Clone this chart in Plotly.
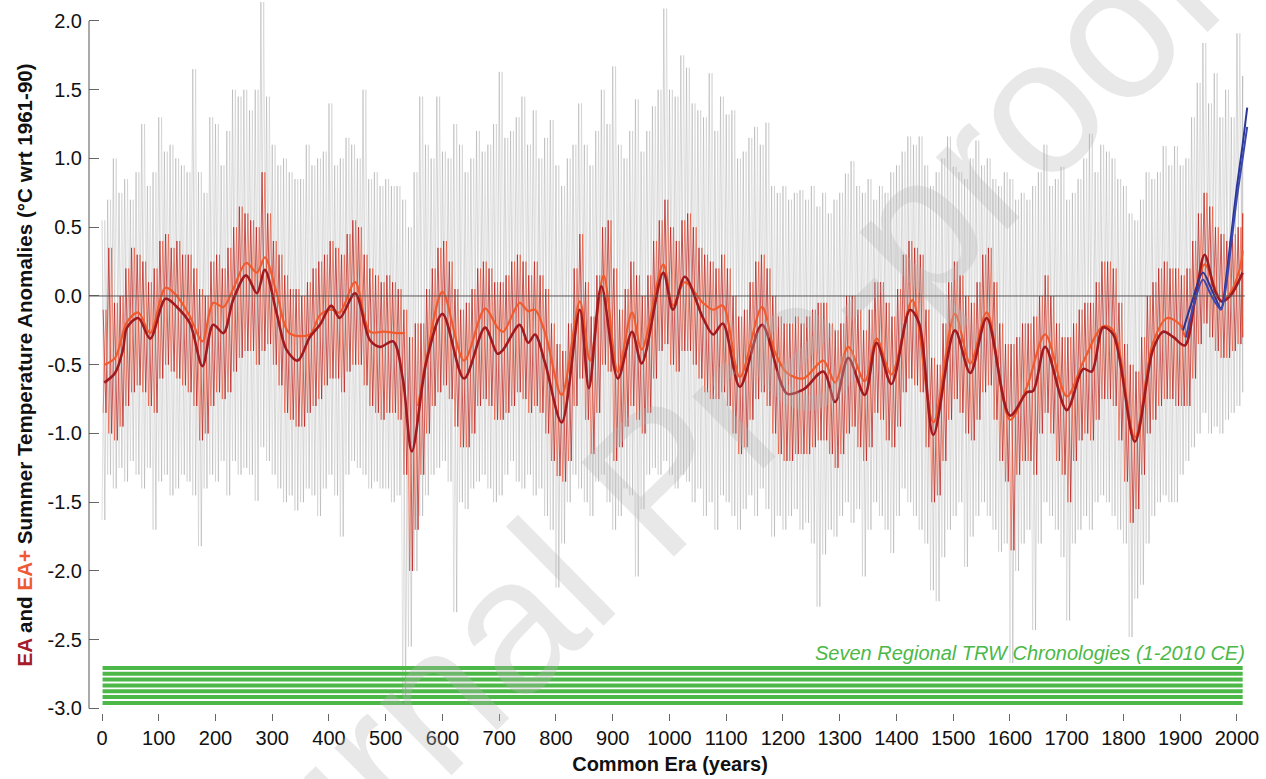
import plotly.graph_objects as go

# ---------------- data ----------------
decades = list(range(0, 2011, 10))

# grey annual uncertainty envelope: upper and lower extremes per decade
grey_hi = [0.55, 0.70, 1.00, 0.75, 0.85, 0.70, 0.90, 1.25, 0.80, 0.90,
           1.30, 1.05, 1.10, 1.00, 0.95, 0.90, 1.65, 0.90, 0.75, 1.30,
           1.25, 0.95, 1.20, 1.50, 1.45, 1.50, 1.35, 1.50, 2.15, 1.45,
           1.10, 0.95, 1.00, 0.90, 0.85, 0.85, 1.10, 0.95, 1.00, 1.05,
           1.40, 0.95, 1.00, 1.15, 1.10, 1.00, 1.50, 0.85, 0.90, 0.80,
           0.85, 0.80, 0.80, 0.70, 0.50, 0.90, 1.45, 1.10, 1.00, 1.45,
           1.05, 1.00, 1.25, 1.10, 0.90, 1.00, 1.20, 1.05, 1.10, 1.25,
           1.63, 1.15, 1.20, 1.30, 1.45, 1.10, 1.35, 1.00, 1.15, 1.28,
           0.95, 0.80, 1.00, 1.10, 1.40, 1.10, 0.95, 1.20, 1.50, 1.25,
           1.67, 1.10, 1.00, 1.20, 1.43, 1.05, 1.20, 1.38, 1.50, 2.09,
           1.50, 1.45, 1.75, 1.66, 1.40, 1.35, 1.30, 1.62, 1.20, 1.45,
           1.32, 1.35, 1.00, 1.05, 1.15, 1.23, 1.10, 1.26, 0.80, 0.75,
           0.80, 0.70, 0.75, 0.77, 0.70, 0.80, 0.65, 0.75, 0.60, 0.70,
           0.75, 0.89, 0.98, 0.80, 0.75, 0.85, 0.70, 0.80, 0.75, 0.90,
           0.95, 1.05, 1.16, 1.10, 1.16, 0.95, 0.80, 0.90, 1.00, 1.16,
           0.94, 0.90, 0.85, 1.00, 1.13, 0.95, 1.00, 0.85, 0.80, 0.90,
           0.85, 0.70, 0.75, 0.70, 0.80, 0.90, 1.10, 0.80, 0.85, 0.94,
           0.70, 0.75, 0.85, 1.00, 1.18, 0.90, 1.10, 1.05, 1.00, 0.85,
           0.80, 0.60, 0.55, 0.70, 0.90, 0.85, 0.90, 1.09, 0.95, 1.09,
           0.95, 1.00, 1.30, 1.55, 1.84, 1.40, 1.62, 1.30, 1.50, 1.30,
           1.91, 1.60]
grey_lo = [-1.63, -1.30, -1.40, -1.25, -1.35, -1.20, -1.30, -1.40, -1.25, -1.70,
           -1.35, -1.30, -1.45, -1.40, -1.30, -1.35, -1.45, -1.82, -1.40, -1.30,
           -1.35, -1.20, -1.45, -1.20, -1.30, -1.25, -1.30, -1.49, -1.10, -1.20,
           -1.30, -1.40, -1.50, -1.45, -1.56, -1.50, -1.40, -1.45, -1.60, -1.40,
           -1.30, -1.45, -1.75, -1.30, -1.20, -1.25, -1.30, -1.40, -1.35, -1.40,
           -1.40, -1.50, -1.45, -2.92, -2.55, -2.00, -1.60, -1.45, -1.30, -1.25,
           -1.20, -1.35, -2.30, -1.50, -1.55, -1.40, -1.35, -1.30, -1.40, -1.50,
           -1.45, -1.30, -1.20, -1.35, -1.40, -1.30, -1.45, -1.40, -1.60, -1.70,
           -2.12, -1.80, -1.50, -1.30, -1.40, -1.50, -1.60, -1.35, -1.30, -1.50,
           -1.70, -1.60, -1.40, -1.45, -2.04, -1.55, -1.30, -1.25, -1.30, -1.20,
           -1.30, -1.40, -1.30, -1.35, -1.50, -1.40, -1.60, -1.50, -1.70, -1.45,
           -1.50, -1.60, -1.70, -1.55, -1.45, -1.60, -1.40, -1.55, -1.75, -1.60,
           -1.70, -1.60, -1.55, -1.70, -1.65, -1.80, -2.26, -1.88, -1.70, -1.75,
           -1.60, -1.50, -1.65, -1.55, -2.04, -1.70, -1.50, -1.60, -1.70, -1.87,
           -1.60, -1.40, -1.50, -1.60, -1.70, -1.80, -2.14, -2.22, -1.90, -1.70,
           -1.60, -1.50, -1.97, -1.75, -1.60, -1.50, -1.60, -1.70, -1.86, -1.80,
           -2.67, -2.00, -1.80, -1.70, -2.43, -1.80, -1.50, -1.60, -1.70, -1.90,
           -2.36, -1.80, -1.70, -1.60, -1.70, -1.50, -1.45, -1.50, -1.60, -1.70,
           -1.80, -2.48, -2.20, -2.10, -1.80, -1.60, -1.50, -1.45, -1.50, -1.50,
           -1.30, -1.20, -1.10, -1.00, -0.85, -1.00, -0.95, -1.00, -0.90, -0.85,
           -0.80, -0.70]

# red annual reconstruction envelope: upper and lower extremes per decade
red_hi = [-0.10, 0.35, -0.05, 0.00, 0.20, 0.35, 0.30, 0.25, 0.10, 0.20,
          0.40, 0.45, 0.35, 0.40, 0.30, 0.30, 0.20, 0.05, 0.00, 0.25,
          0.30, 0.20, 0.35, 0.50, 0.65, 0.60, 0.55, 0.50, 0.90, 0.60,
          0.40, 0.30, 0.15, 0.05, 0.05, 0.00, 0.10, 0.20, 0.25, 0.30,
          0.40, 0.35, 0.30, 0.45, 0.55, 0.50, 0.30, 0.20, 0.15, 0.10,
          0.15, 0.10, 0.05, -0.10, -0.30, -0.20, -0.20, 0.05, 0.20, 0.35,
          0.40, 0.25, 0.05, -0.10, -0.05, 0.05, 0.20, 0.25, 0.20, 0.10,
          0.10, 0.15, 0.25, 0.30, 0.25, 0.15, 0.25, 0.15, 0.05, -0.20,
          -0.35, -0.40, -0.20, 0.20, 0.45, 0.10, -0.15, 0.15, 0.50, 0.55,
          0.20, -0.10, 0.05, 0.25, 0.15, 0.00, 0.15, 0.40, 0.55, 0.70,
          0.50, 0.40, 0.55, 0.60, 0.50, 0.35, 0.30, 0.25, 0.20, 0.30,
          0.20, 0.00, -0.15, -0.10, 0.10, 0.25, 0.30, 0.20, 0.00, -0.15,
          -0.20, -0.20, -0.15, -0.20, -0.15, -0.10, -0.05, -0.05, -0.20, -0.25,
          -0.20, 0.00, 0.00, -0.10, -0.25, -0.10, 0.10, 0.10, -0.05, -0.15,
          0.05, 0.30, 0.40, 0.35, 0.30, -0.10, -0.45, -0.50, -0.20, 0.10,
          0.25, 0.15, 0.00, -0.05, 0.10, 0.30, 0.35, 0.10, -0.20, -0.35,
          -0.35, -0.30, -0.20, -0.20, -0.15, 0.00, 0.15, 0.00, -0.20, -0.30,
          -0.30, -0.20, -0.10, -0.05, -0.05, 0.10, 0.25, 0.25, 0.20, -0.05,
          -0.35, -0.50, -0.55, -0.30, 0.00, 0.10, 0.20, 0.25, 0.20, 0.20,
          0.15, 0.20, 0.40, 0.60, 0.75, 0.65, 0.50, 0.45, 0.40, 0.45,
          0.50, 0.60]
red_lo = [-0.85, -1.00, -1.05, -0.95, -0.80, -0.70, -0.65, -0.70, -0.80, -0.85,
          -0.60, -0.50, -0.55, -0.60, -0.65, -0.70, -0.80, -1.05, -1.00, -0.80,
          -0.70, -0.75, -0.70, -0.55, -0.45, -0.40, -0.40, -0.50, -0.40, -0.35,
          -0.50, -0.65, -0.85, -0.90, -0.95, -0.95, -0.85, -0.80, -0.75, -0.65,
          -0.60, -0.60, -0.70, -0.55, -0.50, -0.50, -0.65, -0.80, -0.85, -0.90,
          -0.85, -0.85, -0.90, -1.30, -2.00, -1.70, -1.30, -1.00, -0.80, -0.70,
          -0.65, -0.75, -0.95, -1.10, -1.10, -1.00, -0.80, -0.75, -0.80, -0.90,
          -0.90, -0.85, -0.80, -0.70, -0.75, -0.85, -0.80, -0.85, -1.00, -1.20,
          -1.31, -1.35, -1.20, -0.80, -0.60, -0.90, -1.15, -0.85, -0.50, -0.55,
          -1.20, -1.10, -0.95, -0.80, -0.90, -1.00, -0.85, -0.60, -0.40, -0.35,
          -0.50, -0.55, -0.40, -0.40, -0.50, -0.60, -0.70, -0.75, -0.75, -0.70,
          -0.80, -1.00, -1.15, -1.10, -0.90, -0.75, -0.70, -0.80, -1.00, -1.15,
          -1.20, -1.20, -1.15, -1.15, -1.15, -1.10, -1.05, -1.05, -1.15, -1.25,
          -1.15, -1.00, -0.95, -1.10, -1.20, -1.10, -0.85, -0.90, -1.05, -1.10,
          -0.95, -0.70, -0.60, -0.65, -0.70, -1.10, -1.50, -1.45, -1.20, -0.90,
          -0.75, -0.85, -1.00, -1.05, -0.90, -0.70, -0.65, -0.90, -1.20, -1.35,
          -1.85, -1.30, -1.20, -1.20, -1.30, -1.00, -0.85, -1.00, -1.20, -1.30,
          -1.50, -1.20, -1.05, -1.00, -1.05, -0.90, -0.75, -0.75, -0.80, -1.05,
          -1.35, -1.65, -1.55, -1.30, -1.00, -0.90, -0.80, -0.75, -0.75, -0.80,
          -0.80, -0.80, -0.60, -0.35, -0.20, -0.30, -0.40, -0.45, -0.45, -0.40,
          -0.35, -0.30]

# smoothed EA reconstruction
ea_years = [4, 23, 37, 44, 64, 85, 112, 132, 155, 177, 196, 214, 231, 254, 273, 287, 308, 325, 345, 366,
            384, 404, 419, 446, 472, 490, 513, 530, 546, 572, 600, 638, 675, 697, 707, 736, 751, 763, 781, 810,
            842, 858, 880, 909, 934, 951, 989, 1006, 1027, 1059, 1077, 1094, 1124, 1163, 1207, 1236, 1271, 1292, 1315, 1344,
            1365, 1391, 1424, 1440, 1465, 1503, 1530, 1559, 1600, 1630, 1641, 1662, 1700, 1729, 1744, 1764, 1782, 1820, 1852, 1870,
            1888, 1908, 1926, 1943, 1961, 1973, 1988, 2010]
ea_smooth = [-0.63, -0.56, -0.39, -0.23, -0.16, -0.31, -0.02, -0.08, -0.20, -0.51, -0.21, -0.27, -0.03, 0.15, 0.02, 0.19, -0.13, -0.39, -0.47, -0.30,
             -0.21, -0.07, -0.16, 0.02, -0.32, -0.37, -0.33, -0.60, -1.13, -0.47, -0.13, -0.60, -0.23, -0.42, -0.39, -0.21, -0.34, -0.28, -0.49, -0.92,
             -0.10, -0.67, 0.07, -0.60, -0.26, -0.49, 0.17, -0.10, 0.14, -0.16, -0.28, -0.20, -0.66, -0.21, -0.71, -0.68, -0.55, -0.77, -0.45, -0.72,
             -0.34, -0.64, -0.10, -0.20, -1.01, -0.25, -0.56, -0.16, -0.87, -0.70, -0.69, -0.37, -0.83, -0.53, -0.55, -0.23, -0.28, -1.06, -0.39, -0.26,
             -0.30, -0.36, -0.03, 0.30, 0.04, -0.04, 0.00, 0.17]

# smoothed EA+ reconstruction (gap around 536-556)
eap_years = [4, 23, 44, 64, 85, 112, 132, 155, 177, 196, 214, 231, 254, 273, 287, 308, 330, 366, 384, 404,
             419, 446, 472, 496, 520, 534, 545, 557, 572, 600, 638, 675, 697, 707, 736, 751, 763, 781, 810, 842,
             860, 884, 909, 934, 951, 989, 1006, 1027, 1059, 1077, 1094, 1124, 1163, 1185, 1207, 1236, 1271, 1292, 1315, 1344,
             1365, 1391, 1428, 1465, 1503, 1530, 1559, 1600, 1630, 1662, 1700, 1729, 1764, 1782, 1820, 1852, 1877, 1900, 1910, 1943,
             1973, 1988, 2005, 2010]
eap_smooth = [-0.50, -0.45, -0.19, -0.12, -0.27, 0.06, 0.00, -0.15, -0.33, -0.05, -0.08, 0.05, 0.24, 0.17, 0.28, 0.02, -0.27, -0.28, -0.14, -0.10,
              -0.12, 0.10, -0.26, -0.26, -0.27, -0.27, None, -0.80, -0.45, 0.03, -0.47, -0.09, -0.23, -0.26, -0.05, -0.11, -0.10, -0.27, -0.72, -0.04,
              -0.47, 0.15, -0.55, -0.12, -0.39, 0.23, -0.07, 0.10, -0.05, -0.10, -0.07, -0.59, -0.08, -0.40, -0.56, -0.60, -0.47, -0.63, -0.37, -0.62,
              -0.31, -0.57, -0.03, -0.92, -0.13, -0.49, -0.12, -0.90, -0.66, -0.28, -0.73, -0.48, -0.22, -0.25, -1.03, -0.34, -0.16, -0.21, -0.30, 0.23,
              -0.04, 0.02, 0.20, 0.33]

# smoothed instrumental records (blue)
inst_years_a = [1905, 1920, 1940, 1955, 1972, 1980, 1990, 2000, 2010, 2018]
inst_a = [-0.25, -0.05, 0.17, 0.05, -0.09, 0.10, 0.45, 0.80, 1.10, 1.37]
inst_years_b = [1910, 1925, 1940, 1955, 1972, 1980, 1990, 2000, 2010, 2018]
inst_b = [-0.30, -0.05, 0.12, 0.00, -0.10, 0.05, 0.38, 0.72, 1.00, 1.23]

# seven regional tree-ring width chronologies (coverage in years CE)
chron_names = ["Region 1", "Region 2", "Region 3", "Region 4", "Region 5", "Region 6", "Region 7"]
chron_start = [1, 1, 1, 1, 1, 1, 1]
chron_end = [2010, 2010, 2010, 2010, 2010, 2010, 2010]

x_ticks = list(range(0, 2001, 100))
x_tick_labels = [str(v) for v in x_ticks]
y_ticks = [-3.0, -2.5, -2.0, -1.5, -1.0, -0.5, 0.0, 0.5, 1.0, 1.5, 2.0]
y_tick_labels = ["-3.0", "-2.5", "-2.0", "-1.5", "-1.0", "-0.5", "0.0", "0.5", "1.0", "1.5", "2.0"]

# ---------------- figure ----------------
FONT = "Liberation Sans, Arial, Helvetica, sans-serif"
fig = go.Figure()


def zigzag(years, hi, lo, start_off, step_off, last):
    xs, ys = [], []
    for yr, h, l in zip(years, hi, lo):
        xs += [min(yr + start_off, last), min(yr + start_off + step_off, last)]
        ys += [h, l]
    return xs, ys


# grey annual bands (two interleaved passes of the same extremes)
gx, gy = zigzag(decades, grey_hi, grey_lo, 0, 5, 2010)
fig.add_trace(go.Scatter(x=gx, y=gy, mode="lines", hoverinfo="skip",
                         line=dict(color="rgba(150,150,150,0.5)", width=0.8)))
gx2, gy2 = zigzag(decades, grey_lo, grey_hi, 0, 5, 2010)
fig.add_trace(go.Scatter(x=gx2, y=gy2, mode="lines", hoverinfo="skip",
                         line=dict(color="rgba(185,185,185,0.5)", width=0.8)))

# zero reference line
fig.add_shape(type="line", xref="x", yref="y", x0=-23, x1=2014, y0=0, y1=0,
              line=dict(color="#555555", width=1), layer="above")

# red annual bands
rx, ry = zigzag(decades, red_hi, red_lo, 2, 5, 2010)
fig.add_trace(go.Scatter(x=rx, y=ry, mode="lines", hoverinfo="skip",
                         line=dict(color="rgba(185,28,28,0.8)", width=0.9)))
rx2, ry2 = zigzag(decades, red_lo, red_hi, 2, 5, 2010)
fig.add_trace(go.Scatter(x=rx2, y=ry2, mode="lines", hoverinfo="skip",
                         line=dict(color="rgba(232,80,48,0.7)", width=0.9)))

# smoothed curves
fig.add_trace(go.Scatter(x=eap_years, y=eap_smooth, mode="lines", connectgaps=False,
                         line=dict(color="#f15a2c", width=2.2, shape="spline", smoothing=0.9)))
fig.add_trace(go.Scatter(x=ea_years, y=ea_smooth, mode="lines",
                         line=dict(color="#a01a20", width=2.6, shape="spline", smoothing=0.9)))
fig.add_trace(go.Scatter(x=inst_years_a, y=inst_a, mode="lines",
                         line=dict(color="#2b3596", width=2, shape="spline", smoothing=0.8)))
fig.add_trace(go.Scatter(x=inst_years_b, y=inst_b, mode="lines",
                         line=dict(color="#3a48b0", width=2, shape="spline", smoothing=0.8)))

# chronology coverage bars
for i, (nm, s, e) in enumerate(zip(chron_names, chron_start, chron_end)):
    level = -2.705 - 0.0425 * i
    fig.add_trace(go.Scatter(x=[s, e], y=[level, level], mode="lines", name=nm,
                             line=dict(color="#4cb848", width=4)))

# y axis line (only from -3 to 2)
fig.add_shape(type="line", xref="paper", yref="y", x0=0, x1=0, y0=-3.0, y1=2.0,
              line=dict(color="#555555", width=1))

fig.add_annotation(text="<i>Seven Regional TRW Chronologies (1-2010 CE)</i>",
                   xref="x", yref="y", x=2018, y=-2.6, xanchor="right", yanchor="middle",
                   showarrow=False, font=dict(family=FONT, size=20, color="#4cb848"))

fig.add_annotation(
    text="<b><span style='color:#a51c2a'>EA</span> and <span style='color:#ee5a35'>EA+</span> "
         "Summer Temperature Anomalies (°C wrt 1961-90)</b>",
    xref="paper", yref="paper", x=0, y=0.5, xshift=-65, yshift=-8, textangle=-90,
    xanchor="center", yanchor="middle", showarrow=False,
    font=dict(family=FONT, size=20.6, color="#111111"))

# watermark
fig.add_annotation(text="Journal Pre-proof", xref="paper", yref="paper",
                   x=0.49, y=0.33, xanchor="center", yanchor="middle", textangle=-44.5,
                   showarrow=False, font=dict(family=FONT, size=192, color="rgba(185,185,185,0.32)"))

fig.update_layout(
    width=1266, height=779, autosize=False,
    margin=dict(l=89, r=15, t=2, b=66),
    paper_bgcolor="white", plot_bgcolor="white",
    showlegend=False,
    font=dict(family=FONT, color="#111111"),
    xaxis=dict(range=[-22.9, 2024.7], tickmode="array", tickvals=x_ticks, ticktext=x_tick_labels,
               ticks="outside", ticklen=7, tickwidth=1, tickcolor="#666666",
               showgrid=False, zeroline=False, showline=False,
               tickfont=dict(family=FONT, size=20, color="#111111"), ticklabelstandoff=0,
               title=dict(text="<b>Common Era (years)</b>", standoff=8,
                          font=dict(family=FONT, size=20, color="#111111"))),
    yaxis=dict(range=[-3.033, 2.138], tickmode="array", tickvals=y_ticks, ticktext=y_tick_labels,
               ticks="inside", ticklen=10, tickwidth=1, tickcolor="#666666",
               showgrid=False, zeroline=False, showline=False,
               tickfont=dict(family=FONT, size=20, color="#111111"), ticklabelstandoff=6),
)

fig.write_html("out.html")
